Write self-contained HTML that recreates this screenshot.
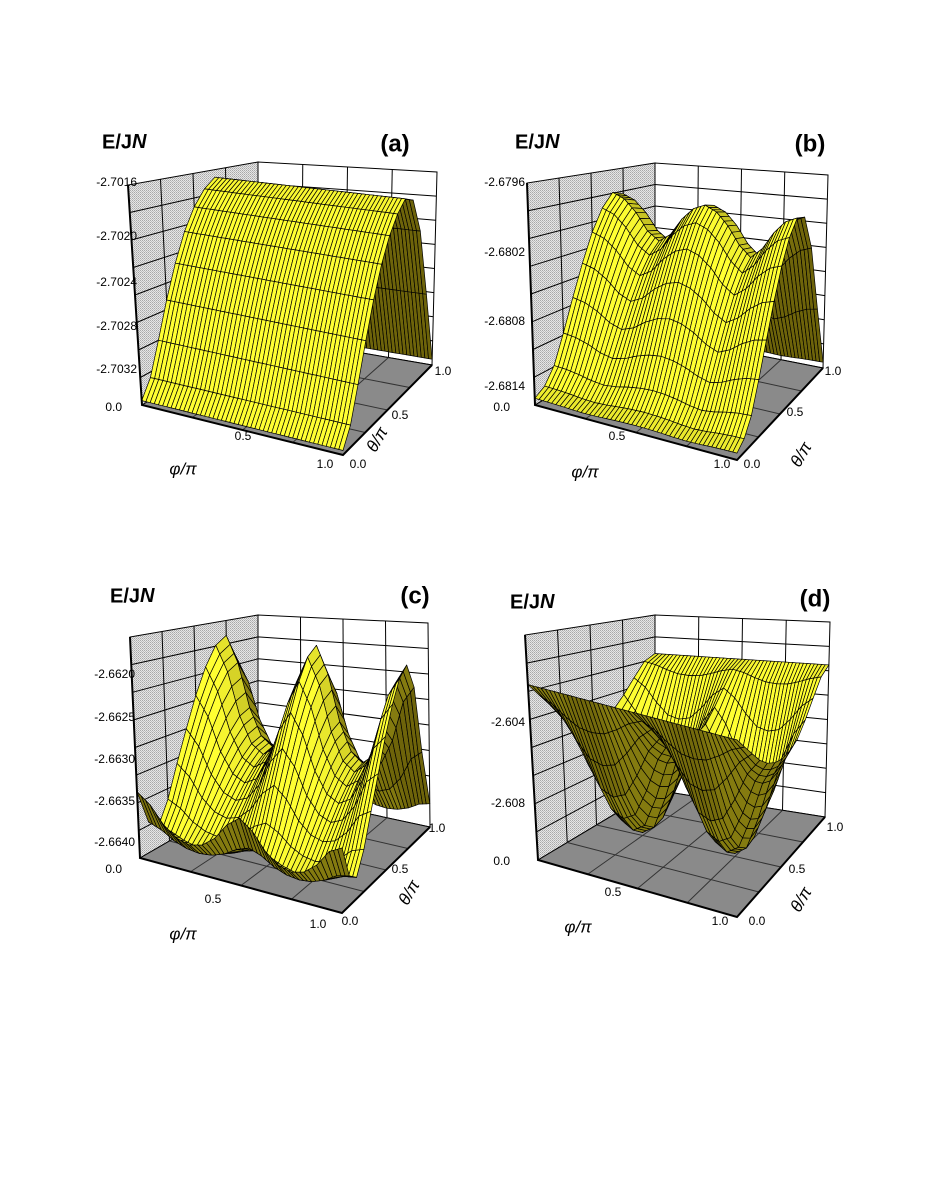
<!DOCTYPE html>
<html><head><meta charset="utf-8"><style>
html,body{margin:0;padding:0;background:#fff;}
svg{display:block;}
text{font-family:"Liberation Sans",Arial,sans-serif;}
</style></head><body>
<svg id="fig" width="927" height="1200" viewBox="0 0 927 1200" xmlns="http://www.w3.org/2000/svg">
<defs>
<pattern id="dither" width="2" height="2" patternUnits="userSpaceOnUse">
<rect width="2" height="2" fill="#e6e6e6"/><rect width="1" height="1" fill="#a8a8a8"/><rect x="1" y="1" width="1" height="1" fill="#bdbdbd"/>
</pattern>
</defs>
<rect width="927" height="1200" fill="#fff"/>
</svg>
<script>
// ---- data (normalized surface heights) ----
const thetaProfileA=[0.02,0.10,0.25,0.42,0.58,0.72,0.83,0.91,0.96,0.93,0.75,0.40,0.03];
const phiModA=[1,1,1,1,1,1,1,1,1,1,1,1,1,1,1,1,1];
const thetaProfileB=[0.03,0.06,0.13,0.26,0.41,0.56,0.70,0.81,0.88,0.86,0.68,0.34,0.03];
const phiModB=[1.0,0.97,0.9,0.8,0.75,0.8,0.9,0.97,1.0,0.97,0.9,0.8,0.74,0.8,0.9,0.97,1.0];
const thetaProfileC=[0.30,0.14,0.10,0.20,0.35,0.50,0.65,0.78,0.88,0.92,0.78,0.42,0.12];
const phiModC=[1.0,0.85,0.6,0.45,0.4,0.45,0.6,0.85,1.0,0.85,0.6,0.45,0.4,0.45,0.6,0.85,0.95];
const topLevelD=0.78;
const thetaDepthD=[0.0,0.2,0.4,0.6,0.75,0.85,0.9,0.88,0.8,0.6,0.35,0.1,0.0];
const phiModD=[0.35,0.5,0.75,0.95,1.0,0.95,0.75,0.5,0.35,0.5,0.75,0.95,1.0,0.95,0.75,0.5,0.35];
const zTicksA=["-2.7016","-2.7020","-2.7024","-2.7028","-2.7032"];
const zTicksB=["-2.6796","-2.6802","-2.6808","-2.6814"];
const zTicksC=["-2.6620","-2.6625","-2.6630","-2.6635","-2.6640"];
const zTicksD=["-2.604","-2.608"];

const NS="http://www.w3.org/2000/svg";
const svg=document.getElementById('fig');
function mk(tag,attrs,parent){const e=document.createElementNS(NS,tag);for(const k in attrs)e.setAttribute(k,attrs[k]);(parent||svg).appendChild(e);return e;}

const panels=[
 {id:'a',F00:[142,405],F10:[343,455],F01:[258,335],F11:[432,365],T00:[128,185],T10:[343,228],T01:[258,162],T11:[437,172],
  z:(i,j)=>thetaProfileA[j]*phiModA[i],
  ticks:zTicksA,tickY:[183,237,283,327,370],tickX:137,zero:[122,408],
  title:[132,143],lab:[395,145],p05:[243,437],p10:[325,465],t00:[358,465],t05:[400,416],t10:[443,372],phiL:[183,470],thL:[378,440]},
 {id:'b',F00:[535,405],F10:[737,460],F01:[655,335],F11:[823,368],T00:[527,183],T10:[737,230],T01:[655,163],T11:[828,175],
  z:(i,j)=>thetaProfileB[j]*phiModB[i],
  ticks:zTicksB,tickY:[183,253,322,387],tickX:525,zero:[510,408],
  title:[545,143],lab:[810,145],p05:[617,437],p10:[722,465],t00:[752,465],t05:[795,413],t10:[833,372],phiL:[585,473],thL:[802,455]},
 {id:'c',F00:[140,858],F10:[342,913],F01:[258,790],F11:[430,827],T00:[130,637],T10:[342,685],T01:[258,615],T11:[428,623],
  z:(i,j)=>thetaProfileC[j]*phiModC[i],
  ticks:zTicksC,tickY:[675,718,760,802,843],tickX:135,zero:[122,870],
  title:[140,597],lab:[415,597],p05:[213,900],p10:[318,925],t00:[350,922],t05:[400,870],t10:[437,829],phiL:[183,935],thL:[410,893]},
 {id:'d',F00:[538,860],F10:[737,917],F01:[655,790],F11:[825,817],T00:[525,635],T10:[737,690],T01:[655,615],T11:[830,622],
  z:(i,j)=>Math.max(0,topLevelD-0.85*thetaDepthD[j]*phiModD[i]),
  ticks:zTicksD,tickY:[723,804],tickX:525,zero:[510,862],
  title:[540,603],lab:[815,600],p05:[613,893],p10:[720,922],t00:[757,922],t05:[797,870],t10:[835,828],phiL:[578,928],thL:[802,900]}
];

function bil(A,B,C,D,u,v){
 return [A[0]*(1-u)*(1-v)+B[0]*u*(1-v)+C[0]*(1-u)*v+D[0]*u*v, A[1]*(1-u)*(1-v)+B[1]*u*(1-v)+C[1]*(1-u)*v+D[1]*u*v];}
function proj(p,u,v,w){const f=bil(p.F00,p.F10,p.F01,p.F11,u,v),t=bil(p.T00,p.T10,p.T01,p.T11,u,v);return [f[0]+(t[0]-f[0])*w,f[1]+(t[1]-f[1])*w];}
function pts(a){return a.map(q=>q[0].toFixed(1)+','+q[1].toFixed(1)).join(' ');}
function txt(g,x,y,s,size,attrs){const t=mk('text',Object.assign({x:x,y:y,'font-size':size,'text-anchor':'middle','dominant-baseline':'middle'},attrs||{}),g);t.textContent=s;return t;}

panels.forEach(p=>{
 const g=mk('g',{});
 
 
 const lw=mk('polygon',{points:pts([p.F00,p.F01,p.T01,p.T00]),fill:'url(#dither)',stroke:'#000','stroke-width':1},g);
 
 
 const bw=mk('polygon',{points:pts([p.F01,p.F11,p.T11,p.T01]),fill:'#fff',stroke:'#000','stroke-width':1},g);
 
 
 const fl=mk('polygon',{points:pts([p.F00,p.F10,p.F11,p.F01]),fill:'#8a8a8a',stroke:'#000','stroke-width':1},g);
 
 
 const gl=mk('g',{stroke:'#000','stroke-width':1,fill:'none'},g);
 
 
 const nz=8;
 for(let k=1;k<nz;k++){const w=k/nz;mk('polyline',{points:pts([proj(p,0,0,w),proj(p,0,1,w),proj(p,1,1,w)])},gl);}
 for(let k=1;k<4;k++){const s=k/4;
  mk('line',{x1:proj(p,0,s,0)[0],y1:proj(p,0,s,0)[1],x2:proj(p,0,s,1)[0],y2:proj(p,0,s,1)[1]},gl);
  mk('line',{x1:proj(p,s,1,0)[0],y1:proj(p,s,1,0)[1],x2:proj(p,s,1,1)[0],y2:proj(p,s,1,1)[1]},gl);
  mk('line',{x1:proj(p,s,0,0)[0],y1:proj(p,s,0,0)[1],x2:proj(p,s,1,0)[0],y2:proj(p,s,1,0)[1],stroke:'#333'},gl);
  mk('line',{x1:proj(p,0,s,0)[0],y1:proj(p,0,s,0)[1],x2:proj(p,1,s,0)[0],y2:proj(p,1,s,0)[1],stroke:'#333'},gl);
 }
 const sg=mk('g',{stroke:'#000','stroke-width':0.7,'stroke-linejoin':'round'},g);
 
 
 const NI=16,NJ=12,SUB=3;
 const Z=(fi,j)=>{const i0=Math.floor(fi),i1=Math.min(NI,i0+1),t=fi-i0;return p.z(i0,j)*(1-t)+p.z(i1,j)*t;};
 for(let j=NJ-1;j>=0;j--){
  for(let c=0;c<NI*SUB;c++){
   const fa=c/SUB,fb=(c+1)/SUB;
   const u0=fa/NI,u1=fb/NI,v0=j/NJ,v1=(j+1)/NJ;
   const z00=Z(fa,j),z10=Z(fb,j),z01=Z(fa,j+1),z11=Z(fb,j+1);
   const P=[proj(p,u0,v0,z00),proj(p,u1,v0,z10),proj(p,u1,v1,z11),proj(p,u0,v1,z01)];
   let area=0;for(let k=0;k<4;k++){const a=P[k],b=P[(k+1)%4];area+=a[0]*b[1]-b[0]*a[1];}
   const dzdu=((z10-z00)+(z11-z01))/2*NI*0.35, dzdv=((z01-z00)+(z11-z10))/2*NJ*0.35;
   const n=[-dzdu,-dzdv,1],nl=Math.hypot(n[0],n[1],n[2]);
   const L=[-0.25,-0.85,0.45];const I=(n[0]*L[0]+n[1]*L[1]+n[2]*L[2])/nl;
   let t=Math.max(0,Math.min(1,(I+0.15)/0.8));
   if(area>0) t=Math.min(t,0.15);
   const r=Math.round(110+145*t),gg=Math.round(100+155*t),bb=Math.round(10+40*t);
   mk('polygon',{points:pts(P),fill:'rgb('+r+','+gg+','+bb+')'},sg);
  }
 }
 const ax=mk('g',{stroke:'#000','stroke-width':2,fill:'none'},g);
 
 
 mk('polyline',{points:pts([p.T00,p.F00,p.F10,p.F11])},ax);
 const lab=mk('g',{fill:'#000'},g);
 
 
 p.ticks.forEach((s,k)=>{const t=txt(lab,p.tickX,p.tickY[k],s,12,{'text-anchor':'end'});
  
  });
 const z0=txt(lab,p.zero[0],p.zero[1],'0.0',12,{'text-anchor':'end'});
 
 
 const tt=txt(lab,p.title[0],p.title[1],'E/J',20,{'text-anchor':'start','font-weight':'bold'});
 const ts=mk('tspan',{'font-style':'italic'},tt);ts.textContent='N';
 
 
 tt.setAttribute('x',p.title[0]-30);
 const pl=txt(lab,p.lab[0],p.lab[1],'('+p.id+')',24,{'font-weight':'bold'});
 
 
 [[p.p05,'0.5'],[p.p10,'1.0'],[p.t00,'0.0'],[p.t05,'0.5'],[p.t10,'1.0']].forEach(a=>{
  const t=txt(lab,a[0][0],a[0][1],a[1],12);
  
  });
 const ph=txt(lab,p.phiL[0],p.phiL[1],'φ/π',17,{'font-style':'italic'});
 
 
 const th=txt(lab,p.thL[0],p.thL[1],'θ/π',17,{'font-style':'italic',transform:'rotate(-60 '+p.thL[0]+' '+p.thL[1]+')'});
 
 
});
</script>
</body></html>
